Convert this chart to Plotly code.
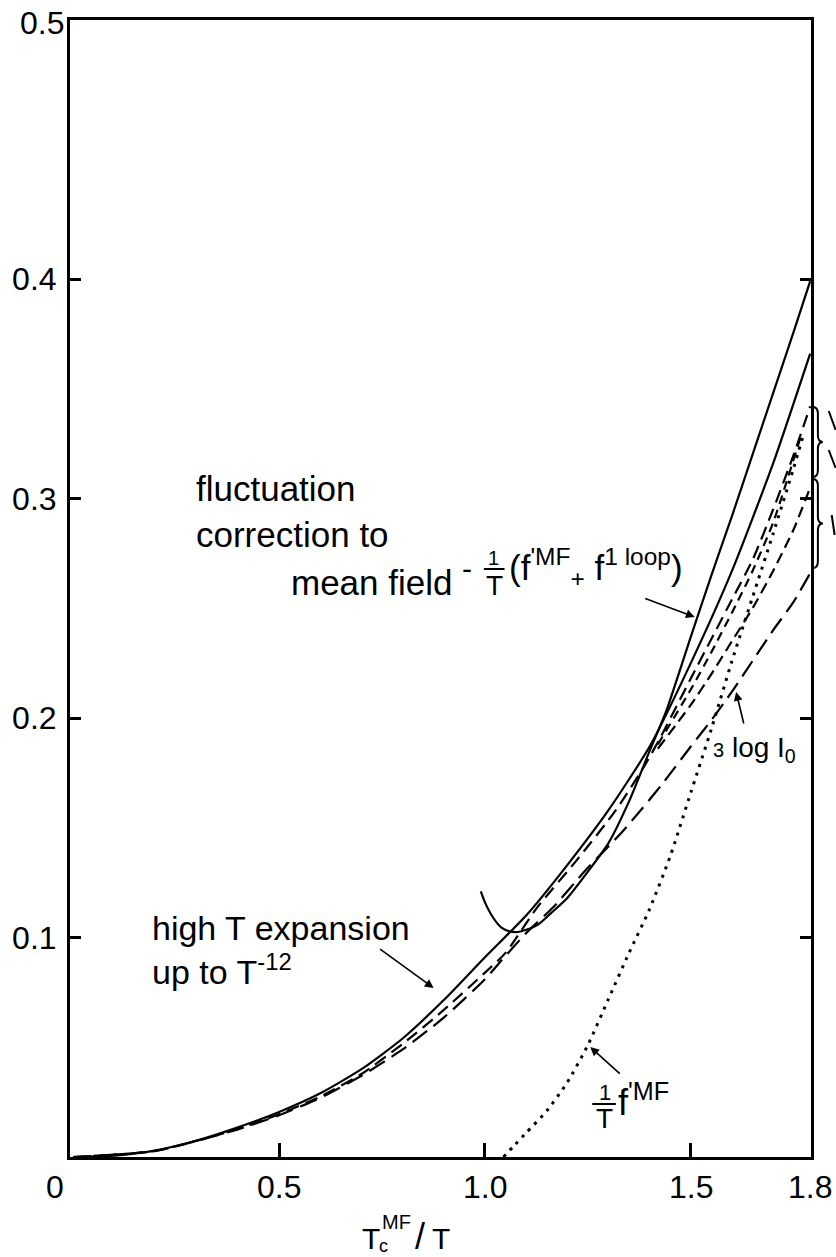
import plotly.graph_objects as go

# ---------------- data ----------------
# high T expansion (solid)
x_highT = [0.0, 0.1, 0.2, 0.3, 0.4, 0.5, 0.6, 0.7, 0.8, 0.9, 1.0, 1.1, 1.2, 1.3, 1.4, 1.5, 1.6, 1.7, 1.79]
y_highT = [0.0, 0.0006, 0.003, 0.0075, 0.0135, 0.0205, 0.029, 0.040, 0.054, 0.0715, 0.091, 0.110, 0.133, 0.158, 0.187, 0.225, 0.267, 0.316, 0.366]

# -1/T (f'MF + f1loop) (solid, with hook)
x_loop = [0.99, 1.0, 1.02, 1.04, 1.06, 1.08, 1.10, 1.13, 1.16, 1.2, 1.25, 1.3, 1.35, 1.4, 1.44, 1.5, 1.55, 1.6, 1.65, 1.7, 1.75, 1.79]
y_loop = [0.121, 0.116, 0.109, 0.1045, 0.1028, 0.1025, 0.1035, 0.106, 0.111, 0.118, 0.130, 0.143, 0.162, 0.185, 0.203, 0.237, 0.265, 0.292, 0.320, 0.348, 0.376, 0.399]

# dashed curve close below the high T expansion
x_dashA = [0.0, 0.2, 0.4, 0.5, 0.6, 0.7, 0.8, 0.9, 1.0, 1.05, 1.127, 1.222, 1.318, 1.39, 1.423, 1.5, 1.55, 1.6, 1.65, 1.7, 1.75, 1.79]
y_dashA = [0.0, 0.0028, 0.0128, 0.0195, 0.0275, 0.0378, 0.0515, 0.067, 0.084, 0.093, 0.1137, 0.135, 0.158, 0.179, 0.190, 0.218, 0.236, 0.254, 0.272, 0.295, 0.320, 0.342]

# 3 log I0 (long dashes)
x_logI0 = [0.0, 0.2, 0.4, 0.5, 0.6, 0.7, 0.8, 0.9, 1.0, 1.04, 1.1, 1.167, 1.246, 1.328, 1.383, 1.431, 1.5, 1.55, 1.6, 1.65, 1.7, 1.75, 1.79]
y_logI0 = [0.0, 0.0028, 0.0126, 0.019, 0.027, 0.037, 0.049, 0.0635, 0.081, 0.0895, 0.102, 0.114, 0.131, 0.147, 0.159, 0.170, 0.187, 0.199, 0.212, 0.226, 0.240, 0.253, 0.266]

# two further dashed curves of the right-hand bundle
x_dashB = [1.42, 1.5, 1.55, 1.6, 1.65, 1.7, 1.75, 1.79]
y_dashB = [0.186, 0.206, 0.220, 0.235, 0.250, 0.267, 0.286, 0.305]
x_dashC = [1.42, 1.5, 1.55, 1.6, 1.65, 1.7, 1.77]
y_dashC = [0.188, 0.213, 0.230, 0.248, 0.267, 0.289, 0.330]

# 1/T f'MF (dotted)
x_mf = [1.045, 1.07, 1.10, 1.15, 1.2, 1.25, 1.3, 1.35, 1.4, 1.45, 1.5, 1.55, 1.6, 1.65, 1.7, 1.75, 1.775]
y_mf = [0.0, 0.005, 0.011, 0.021, 0.034, 0.051, 0.072, 0.093, 0.113, 0.137, 0.166, 0.195, 0.226, 0.255, 0.284, 0.314, 0.330]

x_tickvals = [0.5, 1.0, 1.5]
x_ticktext = ["0.5", "1.0", "1.5"]
y_tickvals = [0.1, 0.2, 0.3, 0.4]
y_ticktext = ["0.1", "0.2", "0.3", "0.4"]

X_RANGE = [-0.008, 1.792]
Y_RANGE = [0.0, 0.518]

# ---------------- figure ----------------
FONT = "Liberation Sans, Arial, Helvetica, sans-serif"
W, H = 836, 1257
ML, MR, MT, MB = 59, 25, 20, 100
PW, PH = W - ML - MR, H - MT - MB

fig = go.Figure()


def add_curve(x, y, dash, width=2.2):
    fig.add_trace(go.Scatter(x=x, y=y, mode="lines",
                             line=dict(color="black", width=width, dash=dash,
                                       shape="spline", smoothing=0.6),
                             hoverinfo="skip"))


add_curve(x_highT, y_highT, "solid")
add_curve(x_loop, y_loop, "solid")
add_curve(x_dashA, y_dashA, "13px,7px")
add_curve(x_logI0, y_logI0, "18px,8px")
add_curve(x_dashB, y_dashB, "11px,6px")
add_curve(x_dashC, y_dashC, "9px,6px")
add_curve(x_mf, y_mf, "3px,6px", width=3)


def px2paper(px, py):
    return (px - ML) / PW, (H - MB - py) / PH


def ann(text, px, py, size=34, xanchor="left", yanchor="middle", align="left"):
    x, y = px2paper(px, py)
    return dict(text=text, x=x, y=y, xref="paper", yref="paper", showarrow=False,
                xanchor=xanchor, yanchor=yanchor, align=align,
                font=dict(size=size, color="black", family=FONT))


def arrow(px_tip, py_tip, dx, dy):
    x, y = px2paper(px_tip, py_tip)
    return dict(text="", x=x, y=y, xref="paper", yref="paper", ax=dx, ay=dy,
                showarrow=True, arrowhead=2, arrowsize=1.1, arrowwidth=1.6,
                arrowcolor="black", standoff=0)


annotations = []
# x tick labels, placed at the tick values
for v, t in zip(x_tickvals, x_ticktext):
    annotations.append(dict(text=t, x=v, xref="x", y=px2paper(0, 1187)[1], yref="paper",
                            showarrow=False, xanchor="center", yanchor="middle",
                            font=dict(size=32, color="black", family=FONT)))

annotations += [
    ann("0.5", 55, 23, 32, xanchor="right"),
    ann("0", 44, 1187, 32, xanchor="center"),
    ann("1.8", 834, 1187, 32, xanchor="right"),
    # fluctuation label
    ann("fluctuation<br>correction to", 185, 511, 35),
    ann("mean field", 281, 582, 35),
    ann("-", 455, 568, 30),
    ann("1", 489, 558, 20, xanchor="center"),
    ann("T", 490, 585, 28, xanchor="center"),
    ann("(f<sup>'MF</sup><sub>+</sub> f<sup>1 loop</sup>)", 502, 567, 35),
    arrow(693, 617, -51, -19),
    # high T expansion
    ann("high T expansion<br>up to T<sup>-12</sup>", 140, 950, 34),
    arrow(428, 988, -55, -40),
    # 3 log I0
    ann("<span style='font-size:20px'>3</span> log I<sub>0</sub>", 710, 750, 28),
    arrow(735, 692, 8, 33),
    # 1/T f'MF
    ann("1", 602, 1092, 22, xanchor="center"),
    ann("T", 601, 1118, 28, xanchor="center"),
    ann("f<sup>'MF</sup>", 613, 1100, 36),
    arrow(587, 1047, 31, 28),
    # axis title  T_c^MF / T
    ann("T", 364, 1238, 30, xanchor="center"),
    ann("MF", 390, 1222, 20, xanchor="center"),
    ann("c", 377, 1246, 18, xanchor="center"),
    ann("/", 414, 1236, 36, xanchor="center"),
    ann("T", 435, 1238, 30, xanchor="center"),
]


def P(px, py):
    x, y = px2paper(px, py)
    return f"{x:.5f},{y:.5f}"


def brace(x0, y0, y1, w=10):
    ym = (y0 + y1) / 2
    xm = x0 + w / 2
    return (f"M {P(x0, y0)} Q {P(xm, y0)} {P(xm, y0 + 7)} L {P(xm, ym - 7)} "
            f"Q {P(xm, ym)} {P(x0 + w, ym)} Q {P(xm, ym)} {P(xm, ym + 7)} "
            f"L {P(xm, y1 - 7)} Q {P(xm, y1)} {P(x0, y1)}")


shapes = [
    dict(type="path", path=brace(813, 407, 477), xref="paper", yref="paper",
         line=dict(color="black", width=2)),
    dict(type="path", path=brace(813, 479, 568), xref="paper", yref="paper",
         line=dict(color="black", width=2)),
    # fraction bars
    dict(type="line", xref="paper", yref="paper",
         x0=px2paper(479, 0)[0], x1=px2paper(500, 0)[0],
         y0=px2paper(0, 569)[1], y1=px2paper(0, 569)[1], line=dict(color="black", width=2)),
    dict(type="line", xref="paper", yref="paper",
         x0=px2paper(589, 0)[0], x1=px2paper(613, 0)[0],
         y0=px2paper(0, 1104)[1], y1=px2paper(0, 1104)[1], line=dict(color="black", width=2)),
]
# cut-off marks at the right edge
for (a, b, c, d) in [(829, 411, 836, 430), (829, 450, 836, 468), (832, 515, 835, 535)]:
    x0, y0 = px2paper(a, b)
    x1, y1 = px2paper(c, d)
    shapes.append(dict(type="line", xref="paper", yref="paper", x0=x0, y0=y0, x1=x1, y1=y1,
                       line=dict(color="black", width=2)))

fig.update_layout(
    width=W, height=H,
    margin=dict(l=ML, r=MR, t=MT, b=MB),
    paper_bgcolor="white", plot_bgcolor="white",
    showlegend=False,
    font=dict(family=FONT, color="black", size=32),
    annotations=annotations,
    shapes=shapes,
    xaxis=dict(range=X_RANGE, showgrid=False, zeroline=False,
               showline=True, linewidth=3, linecolor="black", mirror=True,
               ticks="inside", ticklen=14, tickwidth=2.5, tickcolor="black",
               tickvals=x_tickvals, ticktext=x_ticktext, showticklabels=False),
    yaxis=dict(range=Y_RANGE, showgrid=False, zeroline=False,
               showline=True, linewidth=3, linecolor="black", mirror="ticks",
               ticks="inside", ticklen=11, tickwidth=2.5, tickcolor="black",
               tickvals=y_tickvals, ticktext=y_ticktext,
               tickfont=dict(size=32, family=FONT), ticklabelstandoff=4),
)

fig.write_html("out.html", config={"displayModeBar": False},
               post_script="document.body.style.margin='0';document.body.style.overflow='hidden';")
